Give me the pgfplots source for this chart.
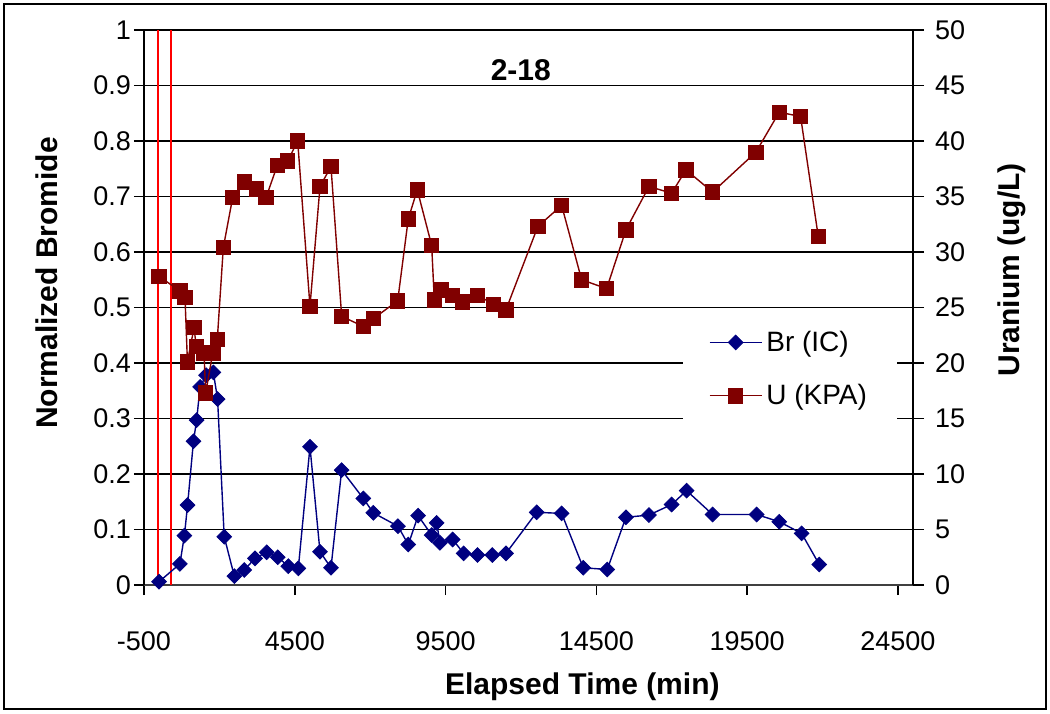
\documentclass[border=0pt]{standalone}
\usepackage{fontspec}
\setmainfont{Liberation Sans}
\usepackage{pgfplots}
\pgfplotsset{compat=1.18}
\definecolor{brblue}{RGB}{0,0,128}
\definecolor{ured}{RGB}{128,0,0}
\pgfplotsset{
  brstyle/.style={color=brblue, line width=0.7pt, mark=square*, mark size=2.6pt,
    mark options={rotate=45, fill=brblue, draw=brblue, solid, line width=0.4pt}},
  ustyle/.style={color=ured, line width=0.7pt, mark=square*, mark size=3.6pt,
    mark options={fill=ured, draw=ured, solid, line width=0.4pt}},
  common/.style={
    width=384.5pt, height=277.5pt, scale only axis,
    xmin=-500, xmax=25000, clip=false,
    scaled x ticks=false, scaled y ticks=false,
    tick label style={font=\fontsize{13.5}{16}\selectfont},
    tick align=outside,
  },
}
\begin{document}
\begin{tikzpicture}
\begin{axis}[common, name=ax1,
  axis y line*=left, axis x line*=bottom,
  ymin=0, ymax=1,
  xtick={-500,4500,9500,14500,19500,24500},
  xticklabels={-500,4500,9500,14500,19500,24500},
  ytick={0,0.1,0.2,0.3,0.4,0.5,0.6,0.7,0.8,0.9,1},
  yticklabels={0,0.1,0.2,0.3,0.4,0.5,0.6,0.7,0.8,0.9,1},
  ymajorgrids, grid style={black, line width=0.9pt},
  major tick length=5pt,
  x axis line style={black!75, line width=1.1pt},
  y axis line style={black, line width=0.8pt},
  xtick style={black, line width=0.8pt},
  ytick style={black, line width=0.8pt},
  xticklabel style={anchor=north, yshift=-15pt},
  yticklabel style={anchor=east, xshift=2pt},
  xlabel={Elapsed Time (min)},
  ylabel={Normalized Bromide},
  every axis x label/.style={at={(axis description cs:0.57,-0.184)}, anchor=center,
    font=\fontsize{15}{18}\selectfont\bfseries},
  every axis y label/.style={at={(axis description cs:-0.126,0.544)}, anchor=center, rotate=90,
    font=\fontsize{15}{18}\selectfont\bfseries},
]
\addplot[red, line width=0.7pt, forget plot] coordinates {(-40,0) (-40,1)};
\addplot[red, line width=0.7pt, forget plot] coordinates {(400,0) (400,1)};
\addplot[brstyle] table {
x y
0 0.006
690 0.038
840 0.089
945 0.144
1140 0.259
1245 0.297
1360 0.357
1560 0.378
1800 0.383
1940 0.335
2160 0.087
2495 0.016
2826 0.027
3180 0.048
3568 0.059
3933 0.050
4285 0.034
4617 0.030
5004 0.249
5336 0.060
5700 0.031
6055 0.207
6772 0.156
7104 0.130
7920 0.106
8264 0.073
8590 0.125
9039 0.090
9205 0.112
9314 0.076
9735 0.082
10100 0.057
10560 0.054
11050 0.054
11503 0.057
12521 0.131
13349 0.129
14066 0.031
14862 0.028
15481 0.122
16244 0.126
16996 0.145
17494 0.170
18355 0.127
19815 0.127
20565 0.114
21307 0.093
21891 0.037
};
\node[font=\fontsize{15}{18}\selectfont\bfseries] at (rel axis cs:0.49,0.928) {2-18};
\end{axis}
\begin{axis}[common,
  axis y line*=right, axis x line=none,
  ymin=0, ymax=50,
  ytick={0,5,10,15,20,25,30,35,40,45,50},
  yticklabels={0,5,10,15,20,25,30,35,40,45,50},
  major tick length=5.5pt,
  y axis line style={black, line width=0.8pt},
  ytick style={black, line width=0.8pt},
  yticklabel style={anchor=west, xshift=2pt},
  ylabel={Uranium (ug/L)},
  every axis y label/.style={at={(axis description cs:1.128,0.568)}, anchor=center, rotate=90,
    font=\fontsize{15}{18}\selectfont\bfseries},
  legend image code/.code={\draw[mark repeat=2,mark phase=2,#1] plot coordinates {(0pt,0pt)(13pt,0pt)(26pt,0pt)};},
  legend style={at={(axis description cs:0.84,0.389)}, anchor=center, draw=none, fill=white,
    font=\fontsize{14}{16}\selectfont, row sep=11pt, inner xsep=13pt, inner ysep=7pt},
  legend cell align=left,
]
\addlegendimage{brstyle}
\addlegendentry{Br (IC)}
\addplot[ustyle] table {
x y
0 27.8
690 26.5
860 25.9
940 20.1
1160 23.2
1230 21.5
1490 20.9
1545 17.3
1780 20.9
1930 22.1
2130 30.4
2440 34.9
2826 36.3
3237 35.7
3545 34.9
3920 37.8
4264 38.2
4596 40.0
5004 25.1
5336 35.9
5700 37.7
6055 24.2
6772 23.3
7104 24.0
7912 25.6
8264 33.0
8562 35.6
9039 30.6
9126 25.7
9348 26.6
9735 26.1
10067 25.5
10564 26.1
11082 25.3
11503 24.8
12560 32.3
13349 34.2
14012 27.5
14841 26.7
15481 32.0
16244 35.9
16996 35.3
17471 37.4
18355 35.4
19792 39.0
20565 42.6
21273 42.2
21858 31.4
};
\addlegendentry{U (KPA)}
\end{axis}
\draw[line width=1.2pt] ([shift={(-70pt,-62pt)}]ax1.south west) rectangle ([shift={(451pt,290.5pt)}]ax1.south west);
\path ([shift={(-72pt,-64pt)}]ax1.south west) rectangle ([shift={(453pt,292.5pt)}]ax1.south west);
\end{tikzpicture}
\end{document}
